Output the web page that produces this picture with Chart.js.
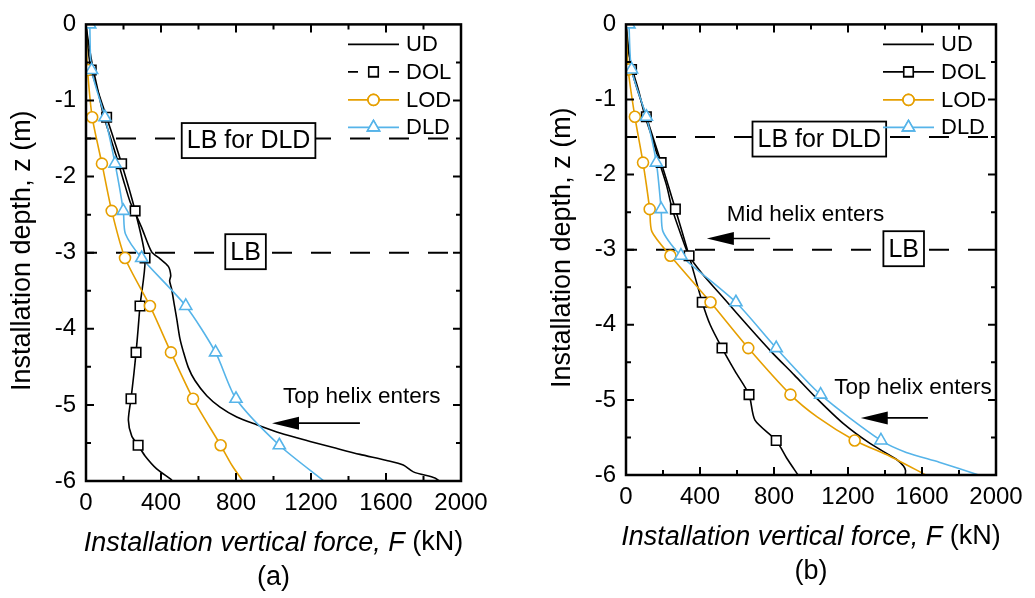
<!DOCTYPE html>
<html>
<head>
<meta charset="utf-8">
<script src="https://cdn.jsdelivr.net/npm/chart.js@4.4.1/dist/chart.umd.min.js"></script>
<style>
  body { margin: 0; background: #fff; width: 1035px; height: 598px; overflow: hidden; position: relative; }
  canvas { position: absolute; top: 0; }
  #graficoA { left: 0; }
  #graficoB { left: 540px; }
</style>
</head>
<body>
<canvas id="graficoA" width="500" height="598"></canvas>
<canvas id="graficoB" width="495" height="598"></canvas>
<script>
const FONTE = '"Liberation Sans", Arial, sans-serif';
const PRETO = "#000000";
const LARANJA = "#E69F00";
const AZUL = "#56B4E9";

// ---- painel (a) ----
const zMarcasA = [-0.6, -1.22, -1.83, -2.45, -3.07, -3.7, -4.31, -4.92, -5.53];
const zMarcasDldA = [0, -0.6, -1.22, -1.83, -2.45, -3.07, -3.7, -4.31, -4.92, -5.53];
const dolMarcasA = [28, 110, 190, 262, 315, 288, 267, 240, 278];
const lodMarcasA = [8, 33, 85, 137, 208, 341, 453, 571, 718];
const dldMarcasA = [20, 30, 101, 155, 199, 297, 532, 691, 800, 1031];
const udCurvaA = [[0, 0], [8, -0.15], [21, -0.35], [37, -0.57], [62, -0.85], [91, -1.17], [128, -1.47],
  [165, -1.76], [200, -2.05], [235, -2.33], [270, -2.52], [297, -2.67], [350, -2.99], [395, -3.08],
  [439, -3.18], [452, -3.3], [446, -3.37], [457, -3.48], [472, -3.7], [484, -3.87], [501, -4.13],
  [519, -4.3], [546, -4.51], [581, -4.68], [644, -4.88], [715, -5.03], [804, -5.16], [910, -5.26],
  [1035, -5.37], [1195, -5.48], [1319, -5.56], [1461, -5.65], [1604, -5.73], [1692, -5.79],
  [1746, -5.88], [1861, -5.96], [1885, -6]];
const dolExtraA = [[0, 0], [10, -0.3], [278, -4.0], [255, -4.6], [226, -5.2], [244, -5.41],
  [315, -5.67], [377, -5.84], [448, -5.97], [462, -6]];
const lodExtraA = [[0, 0], [3, -0.3], [780, -5.8], [836, -6]];
const dldExtraA = [[210, -2.75], [1269, -6]];

// ---- painel (b) ----
const zMarcasB = [-0.6, -1.23, -1.84, -2.46, -3.08, -3.7, -4.31, -4.93, -5.54];
const zMarcasDldB = [0, -0.6, -1.23, -1.84, -2.46, -3.08, -3.7, -4.31, -4.93, -5.54];
const dolMarcasB = [30, 110, 190, 267, 341, 412, 519, 665, 812];
const lodMarcasB = [12, 48, 92, 128, 240, 457, 661, 889, 1236];
const dldMarcasB = [16, 30, 110, 164, 190, 297, 594, 812, 1052, 1378];
const udCurvaB = [[0, 0], [10, -0.3], [35, -0.6], [70, -0.9], [100, -1.2], [140, -1.5], [181, -1.84],
  [220, -2.15], [250, -2.46], [297, -2.8], [341, -3.08], [412, -3.32], [537, -3.67], [661, -4.02],
  [786, -4.36], [910, -4.67], [1035, -4.99], [1177, -5.32], [1319, -5.58], [1461, -5.79],
  [1500, -5.88], [1511, -5.94], [1509, -6]];
const dolExtraB = [[0, 0], [455, -4.0], [590, -4.62], [697, -5.27], [870, -5.78], [930, -6]];
const lodExtraB = [[0, 0], [140, -2.76], [1035, -5.23], [1426, -5.75], [1621, -6]];
const dldExtraB = [[200, -2.76], [1515, -5.7], [1693, -5.83], [1906, -6]];

function pontos(forcas, profundidades) {
  return forcas.map((f, i) => ({ x: f, y: profundidades[i] }));
}

function curva(forcas, profundidades, extra) {
  const lista = pontos(forcas, profundidades).concat(extra.map((p) => ({ x: p[0], y: p[1] })));
  lista.sort((a, b) => b.y - a.y);
  return lista;
}

function linha(dados, cor) {
  return { data: dados, showLine: true, borderColor: cor, borderWidth: 1.6, pointRadius: 0, tension: 0.25, fill: false };
}

function marcas(dados, cor, estilo, raio) {
  return {
    data: dados, showLine: false, pointStyle: estilo, pointRadius: raio,
    pointBorderColor: cor, pointBackgroundColor: "#ffffff", pointBorderWidth: 1.6,
  };
}

function seta(ctx, x1, x2, y) {
  // x1 = ponta, x2 = cauda
  ctx.strokeStyle = PRETO;
  ctx.fillStyle = PRETO;
  ctx.lineWidth = 1.6;
  ctx.beginPath();
  ctx.moveTo(x1 + 20, y);
  ctx.lineTo(x2, y);
  ctx.stroke();
  ctx.beginPath();
  ctx.moveTo(x1, y);
  ctx.lineTo(x1 + 27, y - 6.5);
  ctx.lineTo(x1 + 27, y + 6.5);
  ctx.closePath();
  ctx.fill();
}

function caixa(ctx, cx, cy, texto) {
  ctx.font = "25px " + FONTE;
  const w = ctx.measureText(texto).width + 10;
  const h = 35;
  ctx.fillStyle = "#ffffff";
  ctx.fillRect(cx - w / 2, cy - h / 2, w, h);
  ctx.strokeStyle = PRETO;
  ctx.lineWidth = 1.8;
  ctx.strokeRect(cx - w / 2, cy - h / 2, w, h);
  ctx.fillStyle = PRETO;
  ctx.textAlign = "center";
  ctx.textBaseline = "middle";
  ctx.fillText(texto, cx, cy + 1);
}

const decoracao = {
  id: "decoracao",
  beforeDatasetsDraw(chart, args, opts) {
    const { ctx, chartArea: a, scales } = chart;
    ctx.save();
    ctx.strokeStyle = PRETO;
    ctx.lineWidth = 2;
    ctx.setLineDash([20, 19]);
    ctx.lineDashOffset = 9;
    [-1.5, -3].forEach((z) => {
      const y = scales.y.getPixelForValue(z);
      ctx.beginPath();
      ctx.moveTo(a.left, y);
      ctx.lineTo(a.right, y);
      ctx.stroke();
    });
    ctx.restore();
  },
  afterDatasetsDraw(chart, args, opts) {
    const { ctx, chartArea: a, scales } = chart;
    const sx = scales.x, sy = scales.y;
    ctx.save();

    // caixas LB
    caixa(ctx, sx.getPixelForValue(opts.lbDld), sy.getPixelForValue(-1.5) + 2, "LB for DLD");
    caixa(ctx, sx.getPixelForValue(opts.lb), sy.getPixelForValue(-3) - 1, "LB");

    // textos e setas
    opts.notas.forEach((n) => {
      ctx.font = "22.5px " + FONTE;
      ctx.fillStyle = PRETO;
      ctx.textAlign = "left";
      ctx.textBaseline = "middle";
      ctx.fillText(n.texto, sx.getPixelForValue(n.f), sy.getPixelForValue(n.z));
      seta(ctx, sx.getPixelForValue(n.ponta), sx.getPixelForValue(n.cauda), sy.getPixelForValue(n.zSeta));
    });

    // legenda
    const x0 = a.right - 113, x1 = a.right - 62, xm = (x0 + x1) / 2;
    const linhas = [
      { nome: "UD", cor: PRETO, estilo: null },
      { nome: "DOL", cor: PRETO, estilo: "rect" },
      { nome: "LOD", cor: LARANJA, estilo: "circle" },
      { nome: "DLD", cor: AZUL, estilo: "triangle" },
    ];
    const offs = [20, 47.5, 75.5, 103];
    linhas.forEach((l, i) => {
      const y = a.top + offs[i];
      ctx.strokeStyle = l.cor;
      ctx.lineWidth = 1.6;
      ctx.beginPath();
      if (l.estilo === "rect" && opts.dolCurto) {
        ctx.moveTo(x0, y); ctx.lineTo(x0 + 10, y);
        ctx.moveTo(x1 - 10, y); ctx.lineTo(x1, y);
      } else {
        ctx.moveTo(x0, y); ctx.lineTo(x1, y);
      }
      ctx.stroke();
      if (l.estilo) {
        const r = l.estilo === "rect" ? 6.7 : (l.estilo === "circle" ? 5.5 : 7);
        ctx.fillStyle = "#ffffff";
        Chart.helpers.drawPoint(ctx, { pointStyle: l.estilo, radius: r, borderWidth: 1.6 }, xm, y);
        ctx.fill();
        ctx.stroke();
      }
      ctx.fillStyle = PRETO;
      ctx.font = "22px " + FONTE;
      ctx.textAlign = "left";
      ctx.textBaseline = "middle";
      ctx.fillText(l.nome, a.right - 55, y + 1);
    });

    // moldura e marcas de escala para dentro
    ctx.strokeStyle = PRETO;
    ctx.lineWidth = 2.5;
    ctx.setLineDash([]);
    ctx.strokeRect(a.left, a.top, a.right - a.left, a.bottom - a.top);
    ctx.lineWidth = 2;
    for (let f = 200; f < 2000; f += 200) {
      const x = sx.getPixelForValue(f);
      const len = f % 400 === 0 ? 8 : 5;
      ctx.beginPath();
      ctx.moveTo(x, a.bottom); ctx.lineTo(x, a.bottom - len);
      ctx.moveTo(x, a.top); ctx.lineTo(x, a.top + len);
      ctx.stroke();
    }
    for (let z = -5.5; z < 0; z += 0.5) {
      const y = sy.getPixelForValue(z);
      const len = Number.isInteger(z) ? 8 : 5;
      ctx.beginPath();
      ctx.moveTo(a.left, y); ctx.lineTo(a.left + len, y);
      ctx.moveTo(a.right, y); ctx.lineTo(a.right - len, y);
      ctx.stroke();
    }

    // títulos dos eixos
    ctx.fillStyle = PRETO;
    ctx.textBaseline = "middle";
    const cx = (a.left + a.right) / 2;
    const parte1 = "Installation vertical force, F";
    const parte2 = " (kN)";
    ctx.font = "italic 27px " + FONTE;
    const w1 = ctx.measureText(parte1).width;
    ctx.font = "27px " + FONTE;
    const w2 = ctx.measureText(parte2).width;
    const xi = cx - (w1 + w2) / 2;
    const yt = a.bottom + 62;
    ctx.textAlign = "left";
    ctx.font = "italic 27px " + FONTE;
    ctx.fillText(parte1, xi, yt);
    ctx.font = "27px " + FONTE;
    ctx.fillText(parte2, xi + w1, yt);
    ctx.textAlign = "center";
    ctx.fillText(opts.rotulo, cx, a.bottom + 97);

    ctx.save();
    ctx.translate(a.left - 63, (a.top + a.bottom) / 2 - 2);
    ctx.rotate(-Math.PI / 2);
    ctx.font = "27px " + FONTE;
    ctx.textAlign = "center";
    ctx.fillText("Installation depth, z (m)", 0, 0);
    ctx.restore();

    ctx.restore();
  },
};

function criarPainel(id, topo, base, series, deco) {
  const alturaX = 598 - base;
  return new Chart(document.getElementById(id), {
    type: "scatter",
    data: {
      datasets: [
        marcas(series.dldM, AZUL, "triangle", 7),
        marcas(series.lodM, LARANJA, "circle", 5.5),
        marcas(series.dolM, PRETO, "rect", 6.7),
        linha(series.dld, AZUL),
        linha(series.lod, LARANJA),
        linha(series.dol, PRETO),
        linha(series.ud, PRETO),
      ],
    },
    options: {
      responsive: false,
      animation: false,
      layout: { padding: { left: 0, right: 39, top: topo, bottom: 0 } },
      plugins: {
        legend: { display: false },
        tooltip: { enabled: false },
        decoracao: deco,
      },
      scales: {
        x: {
          type: "linear",
          min: 0,
          max: 2000,
          grid: { display: false, drawTicks: false },
          border: { display: false },
          ticks: {
            stepSize: 400,
            color: PRETO,
            padding: 8,
            font: { family: FONTE, size: 24 },
            callback: (v) => String(v),
          },
          afterFit: (s) => { s.height = alturaX; },
        },
        y: {
          type: "linear",
          min: -6,
          max: 0,
          grid: { display: false, drawTicks: false },
          border: { display: false },
          ticks: {
            stepSize: 1,
            color: PRETO,
            padding: 10,
            font: { family: FONTE, size: 24 },
            callback: (v) => String(v),
          },
          afterFit: (s) => { s.width = 86; },
        },
      },
    },
    plugins: [decoracao],
  });
}

criarPainel("graficoA", 16, 481, {
  ud: udCurvaA.map((p) => ({ x: p[0], y: p[1] })),
  dol: curva(dolMarcasA, zMarcasA, dolExtraA),
  lod: curva(lodMarcasA, zMarcasA, lodExtraA),
  dld: curva(dldMarcasA, zMarcasDldA, dldExtraA),
  dolM: pontos(dolMarcasA, zMarcasA),
  lodM: pontos(lodMarcasA, zMarcasA),
  dldM: pontos(dldMarcasA, zMarcasDldA),
}, {
  lbDld: 867, lb: 851, rotulo: "(a)", dolCurto: true,
  notas: [{ texto: "Top helix enters", f: 1050, z: -4.9, ponta: 992, cauda: 1461, zSeta: -5.24 }],
});

criarPainel("graficoB", 15, 475, {
  ud: udCurvaB.map((p) => ({ x: p[0], y: p[1] })),
  dol: curva(dolMarcasB, zMarcasB, dolExtraB),
  lod: curva(lodMarcasB, zMarcasB, lodExtraB),
  dld: curva(dldMarcasB, zMarcasDldB, dldExtraB),
  dolM: pontos(dolMarcasB, zMarcasB),
  lodM: pontos(lodMarcasB, zMarcasB),
  dldM: pontos(dldMarcasB, zMarcasDldB),
}, {
  lbDld: 1045, lb: 1501, rotulo: "(b)", dolCurto: false,
  notas: [
    { texto: "Mid helix enters", f: 544, z: -2.54, ponta: 437, cauda: 779, zSeta: -2.85 },
    { texto: "Top helix enters", f: 1125, z: -4.84, ponta: 1269, cauda: 1632, zSeta: -5.24 },
  ],
});
</script>
</body>
</html>
